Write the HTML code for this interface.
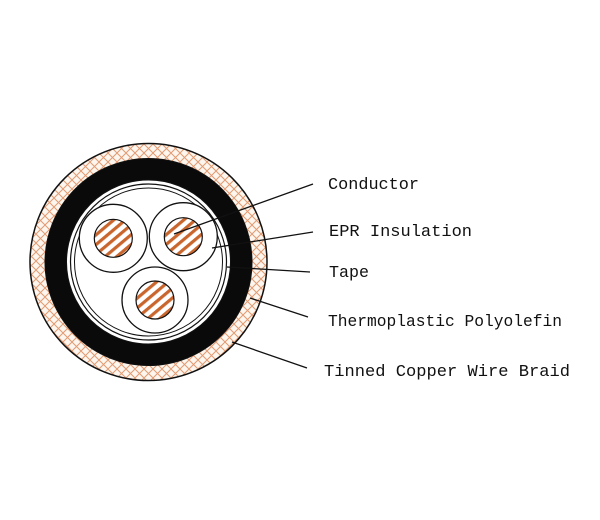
<!DOCTYPE html>
<html><head><style>html,body{margin:0;padding:0;background:#fff;}svg{display:block}</style></head>
<body>
<svg width="600" height="520" viewBox="0 0 600 520" xmlns="http://www.w3.org/2000/svg">
<defs>
<pattern id="braid" width="9" height="9" patternUnits="userSpaceOnUse">
<rect width="9" height="9" fill="#fcf6ee"/>
<path d="M0 0L9 9M9 0L0 9" stroke="#e39a72" stroke-width="1"/>
</pattern>
<pattern id="cu" width="7.5" height="7.5" patternUnits="userSpaceOnUse" patternTransform="rotate(-40)">
<rect width="7.5" height="7.5" fill="#fff"/>
<rect width="7.5" height="3.2" fill="#c8662e"/>
</pattern>
</defs>
<circle cx="148.5" cy="262" r="118.5" fill="url(#braid)" stroke="#111" stroke-width="1.5"/>
<circle cx="148.5" cy="262" r="103.5" fill="#0a0a0a" stroke="#111" stroke-width="1"/>
<circle cx="148.5" cy="262" r="82" fill="#fff" stroke="#111" stroke-width="1"/>
<circle cx="148.5" cy="262" r="78" fill="none" stroke="#111" stroke-width="1.2"/>
<circle cx="148.5" cy="262" r="74" fill="none" stroke="#111" stroke-width="1"/>
<circle cx="113.3" cy="238.3" r="34" fill="#fff" stroke="#111" stroke-width="1.3"/>
<circle cx="183.3" cy="236.7" r="34" fill="#fff" stroke="#111" stroke-width="1.3"/>
<circle cx="155" cy="300" r="33" fill="#fff" stroke="#111" stroke-width="1.3"/>
<circle cx="113.3" cy="238.3" r="19" fill="url(#cu)" stroke="#111" stroke-width="1.2"/>
<circle cx="183.3" cy="236.7" r="19" fill="url(#cu)" stroke="#111" stroke-width="1.2"/>
<circle cx="155" cy="300" r="19" fill="url(#cu)" stroke="#111" stroke-width="1.2"/>
<g stroke="#111" stroke-width="1.3">
<line x1="174" y1="234" x2="313" y2="184"/>
<line x1="212" y1="248" x2="313" y2="232"/>
<line x1="227" y1="267" x2="310" y2="272"/>
<line x1="250" y1="298" x2="308" y2="317"/>
<line x1="232" y1="342" x2="307" y2="368"/>
</g>
<g font-family="'Liberation Mono',monospace" font-size="17" fill="#111">
<text x="328" y="189" textLength="91" lengthAdjust="spacingAndGlyphs">Conductor</text>
<text x="329" y="236" textLength="143" lengthAdjust="spacingAndGlyphs">EPR Insulation</text>
<text x="329" y="277" textLength="40" lengthAdjust="spacingAndGlyphs">Tape</text>
<text x="328" y="326" textLength="234" lengthAdjust="spacingAndGlyphs">Thermoplastic Polyolefin</text>
<text x="324" y="376" textLength="246" lengthAdjust="spacingAndGlyphs">Tinned Copper Wire Braid</text>
</g>
</svg>
</body></html>
